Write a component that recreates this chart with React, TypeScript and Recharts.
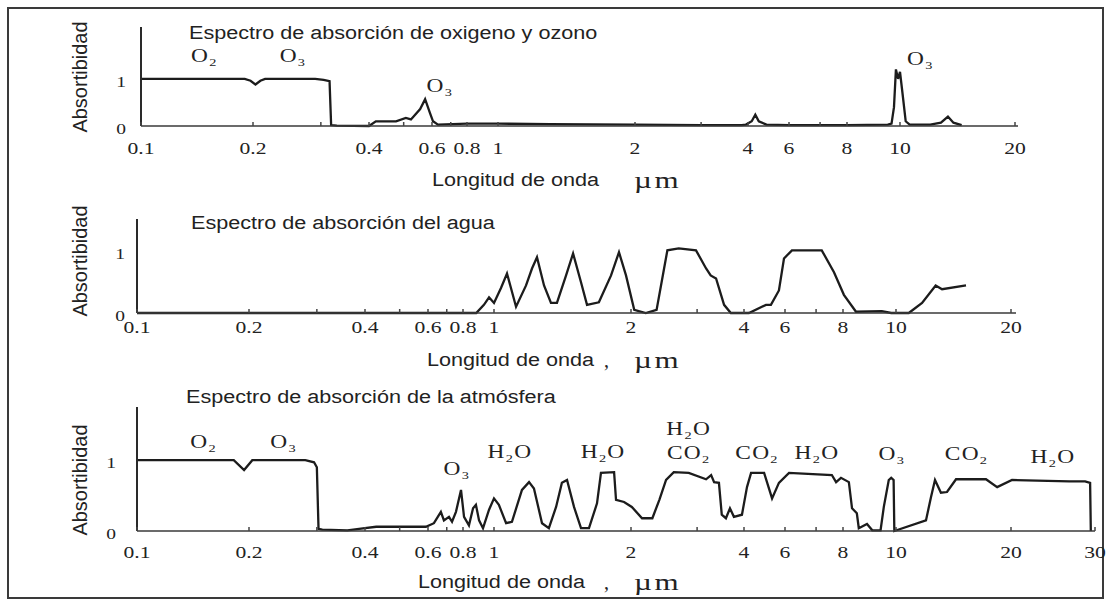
import React from "react";
import { LineChart, Line, XAxis, YAxis, ReferenceDot } from "recharts";

// The scanned x axis is drawn by hand: roughly logarithmic, but uneven.
// Wavelength (µm) -> distance along the axis.
const AXIS_WL = [0.1, 0.2, 0.4, 0.6, 0.8, 1, 2, 4, 6, 8, 10, 20, 30];
const AXIS_POS = [0, 112, 228, 291, 326, 357, 494, 607, 648, 706, 759, 874, 958];

const toAxis = (w: number) => {
  for (let i = 0; i < AXIS_WL.length - 1; i++) {
    const a = AXIS_WL[i];
    const b = AXIS_WL[i + 1];
    if (w <= b || i === AXIS_WL.length - 2) {
      const f = Math.log(w / a) / Math.log(b / a);
      return AXIS_POS[i] + f * (AXIS_POS[i + 1] - AXIS_POS[i]);
    }
  }
  return 0;
};

// ticks
const TICK_WL = [0.1, 0.2, 0.3, 0.4, 0.5, 0.6, 0.7, 0.8, 1, 2, 3, 4, 6, 7, 8, 10, 20];
const TICK_LABELS = ["0.1", "0.2", "", "0.4", "", "0.6", "", "0.8", "1", "2", "", "4", "6", "", "8", "10", "20"];
const TICK_WL_30 = [...TICK_WL, 30];
const TICK_LABELS_30 = [...TICK_LABELS, "30"];
const Y_TICKS = [0, 1];

// oxígeno y ozono
const oxWl = [0.1, 0.19, 0.197, 0.203, 0.209, 0.215, 0.29, 0.305, 0.316, 0.319, 0.33, 0.4, 0.418, 0.476, 0.507, 0.524, 0.556, 0.574, 0.592, 0.605, 0.63, 0.8, 1.0, 1.3, 2.0, 3.0, 3.85, 3.95, 4.15, 4.3, 4.45, 4.8, 6, 8, 9.5, 9.65, 9.75, 9.83, 9.92, 10.0, 10.15, 10.35, 10.6, 12.0, 12.8, 13.35, 13.8, 14.5];
const oxAbs = [1.0, 1.0, 0.96, 0.88, 0.96, 1.0, 1.0, 0.98, 0.95, 0.02, 0.01, 0.0, 0.1, 0.1, 0.17, 0.14, 0.36, 0.57, 0.28, 0.1, 0.03, 0.05, 0.05, 0.04, 0.03, 0.02, 0.02, 0.03, 0.1, 0.24, 0.1, 0.03, 0.02, 0.02, 0.03, 0.05, 0.4, 1.2, 1.0, 1.15, 0.7, 0.1, 0.03, 0.03, 0.07, 0.2, 0.07, 0.02];

// agua
const waterWl = [0.1, 0.88, 0.93, 0.965, 1.0, 1.036, 1.068, 1.118, 1.176, 1.212, 1.243, 1.288, 1.334, 1.375, 1.44, 1.492, 1.553, 1.601, 1.7, 1.808, 1.882, 1.95, 2.04, 2.19, 2.34, 2.45, 2.5, 2.68, 2.98, 3.17, 3.26, 3.37, 3.54, 3.69, 4.2, 4.97, 5.22, 5.65, 5.94, 6.21, 7.2, 7.65, 8.03, 8.45, 9.42, 9.8, 10.8, 11.7, 12.7, 13.2, 15.25];
const waterAbs = [0, 0, 0.13, 0.25, 0.16, 0.4, 0.63, 0.1, 0.44, 0.71, 0.89, 0.44, 0.16, 0.16, 0.6, 0.95, 0.49, 0.13, 0.17, 0.6, 0.97, 0.6, 0.05, 0, 0.05, 0.71, 1.0, 1.03, 1.0, 0.71, 0.6, 0.55, 0.13, 0, 0, 0.13, 0.13, 0.36, 0.87, 1.0, 1.0, 0.65, 0.29, 0.02, 0.03, 0, 0, 0.16, 0.44, 0.38, 0.44];

// atmósfera
const atmWl = [0.1, 0.182, 0.194, 0.204, 0.28, 0.295, 0.3, 0.303, 0.31, 0.36, 0.386, 0.43, 0.476, 0.592, 0.63, 0.667, 0.684, 0.713, 0.731, 0.755, 0.787, 0.806, 0.835, 0.86, 0.878, 0.898, 0.924, 0.965, 1.0, 1.025, 1.063, 1.095, 1.152, 1.194, 1.224, 1.275, 1.32, 1.369, 1.41, 1.447, 1.499, 1.553, 1.617, 1.684, 1.718, 1.836, 1.854, 1.931, 2.01, 2.14, 2.28, 2.38, 2.48, 2.6, 2.85, 3.17, 3.27, 3.33, 3.43, 3.49, 3.58, 3.67, 3.76, 3.95, 4.12, 4.29, 4.88, 5.28, 5.65, 6.12, 7.57, 7.73, 7.92, 8.2, 8.31, 8.48, 8.55, 8.85, 9.05, 9.37, 9.5, 9.7, 9.8, 9.9, 9.93, 11.98, 12.35, 12.65, 13.11, 13.6, 14.36, 17.2, 18.4, 20.1, 26.5, 28.6, 29.3, 29.4];
const atmAbs = [1.0, 1.0, 0.86, 1.0, 1.0, 0.97, 0.9, 0.03, 0.02, 0.01, 0.03, 0.06, 0.06, 0.06, 0.11, 0.27, 0.15, 0.2, 0.13, 0.27, 0.58, 0.2, 0.08, 0.32, 0.37, 0.15, 0.04, 0.3, 0.46, 0.37, 0.11, 0.13, 0.58, 0.69, 0.6, 0.11, 0.04, 0.34, 0.68, 0.72, 0.34, 0.04, 0.04, 0.39, 0.82, 0.83, 0.44, 0.41, 0.34, 0.18, 0.18, 0.44, 0.72, 0.83, 0.82, 0.73, 0.79, 0.69, 0.68, 0.23, 0.18, 0.32, 0.2, 0.23, 0.62, 0.82, 0.82, 0.46, 0.68, 0.82, 0.79, 0.69, 0.75, 0.69, 0.32, 0.25, 0.04, 0.1, 0.01, 0.01, 0.34, 0.72, 0.75, 0.72, 0.0, 0.15, 0.48, 0.72, 0.54, 0.55, 0.73, 0.73, 0.62, 0.72, 0.7, 0.7, 0.68, 0];

// molecule labels
const oxNotes = ["O2", "O3", "O3", "O3"];
const oxNoteWl = [0.148, 0.254, 0.64, 11.3];
const oxNoteAbs = [1.36, 1.36, 0.72, 1.3];

const atmNotes = ["O2", "O3", "O3", "H2O", "H2O", "H2O", "CO2", "CO2", "H2O", "O3", "CO2", "H2O"];
const atmNoteWl = [0.151, 0.246, 0.76, 1.084, 1.737, 2.85, 2.85, 4.55, 7.03, 9.83, 15.3, 24.5];
const atmNoteAbs = [1.17, 1.17, 0.79, 1.03, 1.03, 1.35, 1.02, 1.02, 1.02, 1.0, 1.0, 0.96];

const INK = "#222";
const SANS = "'Liberation Sans', Arial, sans-serif";
const SERIF = "'Liberation Serif', 'Times New Roman', serif";

function ChemText({ cx, cy, text }: { cx: number; cy: number; text: string }) {
  const parts = text.split(/(\d)/).filter(Boolean);
  let shifted = false;
  return (
    <text
      transform={`translate(${cx},${cy}) scale(1.3,1)`}
      textAnchor="middle"
      dy="0.35em"
      fontFamily={SERIF}
      fontSize={18}
      fill={INK}
      letterSpacing={1}
    >
      {parts.map((s, i) => {
        if (/\d/.test(s)) {
          shifted = true;
          return (
            <tspan key={i} fontSize={11} dy={4}>
              {s}
            </tspan>
          );
        }
        const dy = shifted ? -4 : 0;
        shifted = false;
        return (
          <tspan key={i} dy={dy}>
            {s}
          </tspan>
        );
      })}
    </text>
  );
}

function XTick(props: any) {
  const { x, y, payload, tickU, labels, gap } = props;
  const idx = tickU.findIndex((u: number) => Math.abs(u - payload.value) < 0.01);
  const label = idx >= 0 ? labels[idx] : "";
  const base = y - gap;
  return (
    <g>
      <line x1={x} x2={x} y1={base} y2={base - 4} stroke="#444" strokeWidth={1.5} />
      {label && (
        <text
          transform={`translate(${x},${y}) scale(1.35,1)`}
          textAnchor="middle"
          dy="0.35em"
          fontFamily={SERIF}
          fontSize={16}
          fill={INK}
        >
          {label}
        </text>
      )}
    </g>
  );
}

function YTick(props: any) {
  const { x, y, payload } = props;
  return (
    <text
      transform={`translate(${x},${y + 3}) scale(1.3,1)`}
      textAnchor="end"
      dy="0.35em"
      fontFamily={SERIF}
      fontSize={15}
      fill={INK}
    >
      {payload.value}
    </text>
  );
}

type PanelProps = {
  top: number;
  height: number;
  margin: { top: number; left: number; right: number; bottom: number };
  xEnd: number;
  yMax: number;
  wl: number[];
  abs: number[];
  tickWl: number[];
  tickLabels: string[];
  tickGap: number;
  yGap: number;
  notes?: string[];
  noteWl?: number[];
  noteAbs?: number[];
};

function Panel(p: PanelProps) {
  const rows = p.wl.map((w, i) => ({ u: toAxis(w), a: p.abs[i] }));
  const tickU = p.tickWl.map(toAxis);
  return (
    <div style={{ position: "absolute", left: 0, top: p.top }}>
      <LineChart width={1110} height={p.height} data={rows} margin={p.margin}>
        <XAxis
          dataKey="u"
          type="number"
          domain={[0, p.xEnd]}
          ticks={tickU}
          interval={0}
          height={30}
          tickLine={false}
          tickSize={0}
          tickMargin={p.tickGap}
          axisLine={{ stroke: "#3a3a3a", strokeWidth: 1.6 }}
          tick={(t: any) => <XTick {...t} tickU={tickU} labels={p.tickLabels} gap={p.tickGap} />}
        />
        <YAxis
          type="number"
          domain={[0, p.yMax]}
          ticks={Y_TICKS}
          width={40}
          tickLine={false}
          tickSize={0}
          tickMargin={p.yGap}
          axisLine={{ stroke: "#2a2a2a", strokeWidth: 2 }}
          tick={(t: any) => <YTick {...t} />}
        />
        <Line
          type="linear"
          dataKey="a"
          stroke="#1c1c1c"
          strokeWidth={2.3}
          dot={false}
          isAnimationActive={false}
        />
        {(p.notes || []).map((n, i) => (
          <ReferenceDot
            key={i}
            x={toAxis(p.noteWl![i])}
            y={p.noteAbs![i]}
            r={0}
            ifOverflow="visible"
            shape={(s: any) => <ChemText cx={s.cx} cy={s.cy} text={n} />}
          />
        ))}
      </LineChart>
    </div>
  );
}

const textBase: React.CSSProperties = {
  position: "absolute",
  whiteSpace: "nowrap",
  color: INK,
  lineHeight: 1,
  transformOrigin: "left center",
};

function Title({ x, y, children }: { x: number; y: number; children: React.ReactNode }) {
  return (
    <div style={{ ...textBase, left: x, top: y - 9, fontFamily: SANS, fontSize: 18, transform: "scaleX(1.2)" }}>
      {children}
    </div>
  );
}

function XTitle({ x, y, comma }: { x: number; y: number; comma: boolean }) {
  return (
    <>
      <div style={{ ...textBase, left: x, top: y - 9, fontFamily: SANS, fontSize: 18, transform: "scaleX(1.2)" }}>
        Longitud de onda
      </div>
      {comma && (
        <div style={{ ...textBase, left: 604, top: y - 10, fontFamily: SERIF, fontSize: 20 }}>,</div>
      )}
      <div
        style={{
          ...textBase,
          left: 634,
          top: y - 11,
          fontFamily: SERIF,
          fontSize: 23,
          letterSpacing: 2,
          transform: "scaleX(1.35)",
        }}
      >
        µm
      </div>
    </>
  );
}

function YTitle({ y }: { y: number }) {
  return (
    <div
      style={{
        position: "absolute",
        left: 80,
        top: y,
        color: INK,
        fontFamily: SANS,
        fontSize: 20,
        lineHeight: 1,
        whiteSpace: "nowrap",
        transform: "translate(-50%, -50%) rotate(-90deg)",
      }}
    >
      Absortibidad
    </div>
  );
}

export default function App() {
  return (
    <div style={{ position: "absolute", left: 0, top: 0, width: 1110, height: 604, background: "#fff", overflow: "hidden" }}>
      <div
        style={{
          position: "absolute",
          left: 7,
          top: 7,
          width: 1097,
          height: 592,
          border: "2px solid #3a3a3a",
          boxSizing: "border-box",
        }}
      />
      <Panel
        top={0}
        height={190}
        margin={{ top: 27, left: 101, right: 92, bottom: 34 }}
        xEnd={877}
        yMax={2.1}
        wl={oxWl}
        abs={oxAbs}
        tickWl={TICK_WL}
        tickLabels={TICK_LABELS}
        tickGap={22}
        yGap={15}
        notes={oxNotes}
        noteWl={oxNoteWl}
        noteAbs={oxNoteAbs}
      />
      <Panel
        top={190}
        height={190}
        margin={{ top: 29, left: 97, right: 94, bottom: 37 }}
        xEnd={879}
        yMax={1.5}
        wl={waterWl}
        abs={waterAbs}
        tickWl={TICK_WL}
        tickLabels={TICK_LABELS}
        tickGap={14}
        yGap={12}
      />
      <Panel
        top={380}
        height={224}
        margin={{ top: 27, left: 97, right: 15, bottom: 43 }}
        xEnd={958}
        yMax={1.75}
        wl={atmWl}
        abs={atmAbs}
        tickWl={TICK_WL_30}
        tickLabels={TICK_LABELS_30}
        tickGap={21}
        yGap={21}
        notes={atmNotes}
        noteWl={atmNoteWl}
        noteAbs={atmNoteAbs}
      />
      <Title x={189} y={33}>Espectro de absorción de oxigeno y ozono</Title>
      <Title x={191} y={223}>Espectro de absorción del agua</Title>
      <Title x={186} y={397}>Espectro de absorción de la atmósfera</Title>
      <XTitle x={432} y={180} comma={false} />
      <XTitle x={427} y={360} comma={true} />
      <XTitle x={418} y={582} comma={true} />
      <YTitle y={77} />
      <YTitle y={261} />
      <YTitle y={480} />
    </div>
  );
}
